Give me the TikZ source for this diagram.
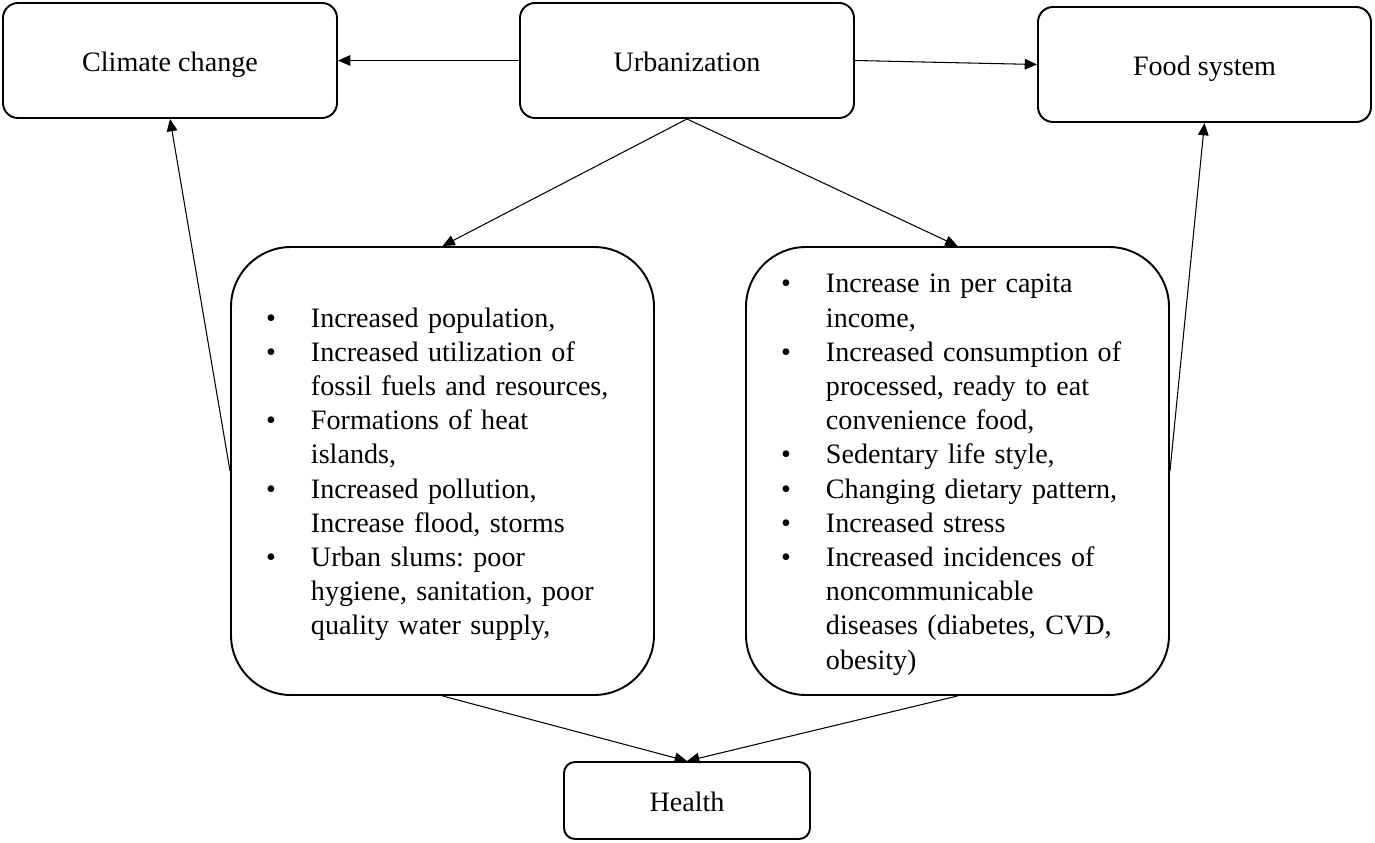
\documentclass[tikz,border=0pt]{standalone}
\usepackage{fontspec}
\setmainfont{Liberation Serif}
\usetikzlibrary{arrows.meta}
\newcommand{\bul}{\makebox[25.6pt][l]{\textbullet}}
\newcommand{\ind}{\hspace*{25.6pt}}
\newcommand{\topgap}{\rule{0pt}{14.9pt}}
\tikzset{
	topic/.style={draw, line width=1.1pt, rounded corners=0.3cm, minimum width=6.68cm, minimum height=2.3cm, text height=13pt, text depth=0pt, font=\fontsize{16}{19.5}\selectfont},
	factors/.style={draw, line width=1.1pt, rounded corners=1.2cm, minimum width=8.46cm, minimum height=8.96cm, text width=7.06cm, inner xsep=0.7cm, align=left, font=\fontsize{16}{19.46}\selectfont\frenchspacing},
	link/.style={line width=0.6pt, -{Triangle[length=7pt,width=6pt]}}
}

\begin{document}
\begin{tikzpicture}
		%%%%% START %%%%%
		\useasboundingbox (0, 0) rectangle (27.5, -16.86);
		
		\node[topic] (clim) at (3.40, -1.21) {Climate change};
		\node[topic] (urb) at (13.74, -1.21) {Urbanization};
		\node[topic, minimum width=6.66cm] (food) at (24.09, -1.29) {Food system};
		
		% list boxes, first line a bit taller so the text sits lower
		\node[factors] (env) at (8.85, -9.42) {\topgap\bul Increased population,\\
			\bul Increased utilization of\\
			\ind fossil fuels and resources,\\
			\bul Formations of heat\\
			\ind islands,\\
			\bul Increased pollution,\\
			\ind Increase flood, storms\\
			\bul Urban slums: poor\\
			\ind hygiene, sanitation, poor\\
			\ind quality water supply,};
		\node[factors] (diet) at (19.15, -9.42) {\topgap\bul Increase in per capita\\
			\ind income,\\
			\bul Increased consumption of\\
			\ind processed, ready to eat\\
			\ind convenience food,\\
			\bul Sedentary life style,\\
			\bul Changing dietary pattern,\\
			\bul Increased stress\\
			\bul Increased incidences of\\
			\ind noncommunicable\\
			\ind diseases (diabetes, CVD,\\
			\ind obesity)};
		
		\node[topic, minimum width=4.92cm, minimum height=1.54cm, rounded corners=0.22cm] (health) at (13.74, -16.01) {Health};
		
		\draw[link] (urb.west) -- (clim.east);
		\draw[link] (urb.east) -- (food.west);
		\draw[link] (urb.south) -- (env.north);
		\draw[link] (urb.south) -- (diet.north);
		\draw[link] (env.west) -- (clim.south);
		\draw[link] (diet.east) -- (food.south);
		\draw[link] (env.south) -- (health.north);
		\draw[link] (diet.south) -- (health.north);
		
		%%%%% END %%%%%
	\end{tikzpicture}
\end{document}
